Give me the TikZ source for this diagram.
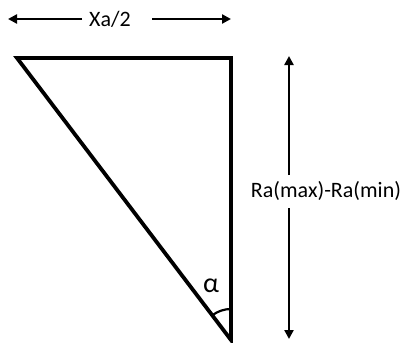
\documentclass[tikz,border=0pt]{standalone}
\usepackage{fontspec}
\setmainfont{Carlito}
\usetikzlibrary{arrows.meta,positioning,calc}

\begin{document}
\begin{tikzpicture}[
  x=1pt, y=-1pt,
  side/.style={line width=3.8pt, line join=miter},
  dimarrow/.style={-{Triangle[length=9pt, width=9pt]}, line width=2.6pt},
  label/.style={font=\fontsize{22}{26}\selectfont, inner sep=0pt}
]
\useasboundingbox (0,0) rectangle (405,343);

% triangle
\coordinate (tl) at (17,58);
\coordinate (tr) at (231,58);
\coordinate (bot) at (231,340);
\draw[side] (tl) -- (tr) -- (bot) -- cycle;
\draw[line width=2.2pt] ($(bot)+(0,-31)$) arc[start angle=270, end angle=233, radius=31];
\node[label, font=\fontsize{28}{30}\selectfont] (alpha) at (211,286) {α};

% width
\node[label] (xlabel) at (110,19) {Xa/2};
\coordinate (xa) at (82,19);
\coordinate (xb) at (152,19);
\coordinate (xleft) at (8,19);
\coordinate (xright) at (231,19);
\draw[dimarrow] (xa) -- (xleft);
\draw[dimarrow] (xb) -- (xright);

% height
\node[label] (rlabel) at (326,191) {Ra(max)-Ra(min)};
\coordinate (ra) at (289,175);
\coordinate (rb) at (289,208);
\coordinate (rtop) at (289,56);
\coordinate (rbot) at (289,339);
\draw[dimarrow] (ra) -- (rtop);
\draw[dimarrow] (rb) -- (rbot);
\end{tikzpicture}
\end{document}
